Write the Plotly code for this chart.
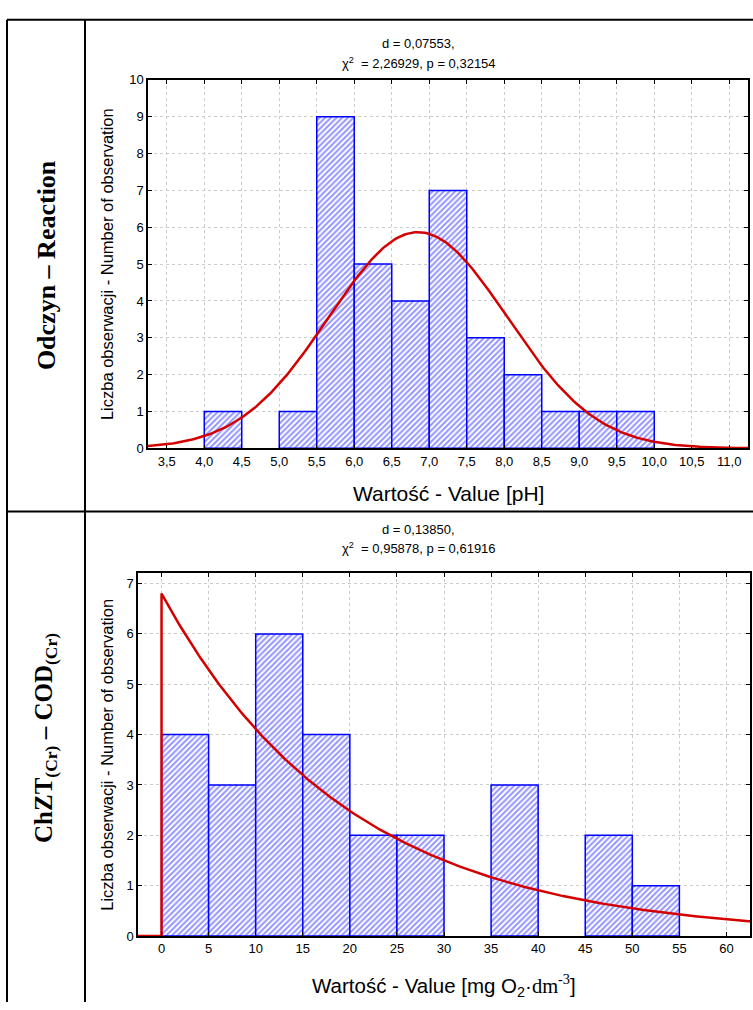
import plotly.graph_objects as go
import numpy as np

W, H = 753, 1010

# ---- Chart 1: pH ----
ph_bin_left = [4.0, 5.0, 5.5, 6.0, 6.5, 7.0, 7.5, 8.0, 8.5, 9.0, 9.5]
ph_counts = [1, 1, 9, 5, 4, 7, 3, 2, 1, 1, 1]
ph_bin_width = 0.5
ph_ticks = [3.5, 4.0, 4.5, 5.0, 5.5, 6.0, 6.5, 7.0, 7.5, 8.0, 8.5, 9.0, 9.5, 10.0, 10.5, 11.0]
ph_fit_mean = 6.85
ph_fit_sd = 1.19
ph_title1 = "d = 0,07553,"
ph_title2 = "χ<sup>2</sup>  = 2,26929, p = 0,32154"

# ---- Chart 2: COD ----
cod_bin_left = [0, 5, 10, 15, 20, 25, 35, 45, 50]
cod_counts = [4, 3, 6, 4, 2, 2, 3, 2, 1]
cod_bin_width = 5
cod_ticks = [0, 5, 10, 15, 20, 25, 30, 35, 40, 45, 50, 55, 60]
cod_fit_mean = 19.85
cod_title1 = "d = 0,13850,"
cod_title2 = "χ<sup>2</sup>  = 0,95878, p = 0,61916"

BLUE = "#0000ff"
RED = "#d40000"


def px(x):
    return x / W


def py(y):
    return 1 - y / H


fig = go.Figure()

bar_style = dict(
    marker=dict(
        color="white",
        line=dict(color=BLUE, width=1.5),
        pattern=dict(shape="/", fgcolor="#2a2aff", bgcolor="white", size=4, solidity=0.5),
    ),
    showlegend=False,
)

# chart 1 bars
fig.add_trace(go.Bar(
    x=[l + ph_bin_width / 2 for l in ph_bin_left], y=ph_counts,
    width=[ph_bin_width] * len(ph_counts), xaxis="x", yaxis="y", **bar_style))
# chart 1 normal fit
n1 = sum(ph_counts)
xs1 = np.linspace(3.25, 11.25, 300)
ys1 = n1 * ph_bin_width / (ph_fit_sd * np.sqrt(2 * np.pi)) * np.exp(-0.5 * ((xs1 - ph_fit_mean) / ph_fit_sd) ** 2)
fig.add_trace(go.Scatter(x=xs1, y=ys1, mode="lines", line=dict(color=RED, width=2.5),
                         xaxis="x", yaxis="y", showlegend=False))

# chart 2 bars
fig.add_trace(go.Bar(
    x=[l + cod_bin_width / 2 for l in cod_bin_left], y=cod_counts,
    width=[cod_bin_width] * len(cod_counts), xaxis="x2", yaxis="y2", **bar_style))
# chart 2 exponential fit
n2 = sum(cod_counts)
xs2 = np.linspace(0, 62.5, 300)
ys2 = n2 * cod_bin_width / cod_fit_mean * np.exp(-xs2 / cod_fit_mean)
xs2 = np.concatenate([[-2.5, 0.0], xs2])
ys2 = np.concatenate([[0.0, 0.0], ys2])
fig.add_trace(go.Scatter(x=xs2, y=ys2, mode="lines", line=dict(color=RED, width=2.5),
                         xaxis="x2", yaxis="y2", showlegend=False))

axis_common = dict(
    showline=True, linecolor="black", linewidth=1.5, mirror="ticks",
    ticks="inside", ticklen=4, tickcolor="black", tickwidth=1,
    showgrid=True, gridcolor="#cccccc", griddash="dot", gridwidth=1,
    zeroline=False, tickfont=dict(family="Liberation Sans, Arial", size=13, color="black"),
)

fig.update_layout(
    width=W, height=H,
    margin=dict(l=0, r=0, t=0, b=0),
    paper_bgcolor="white", plot_bgcolor="white",
    separators=", ",
    barmode="overlay",
    xaxis=dict(domain=[px(148), px(748)], range=[3.25, 11.25], tickvals=ph_ticks,
               tickformat=".1f", anchor="y", **axis_common),
    yaxis=dict(domain=[py(448), py(74)], range=[0, 10], tickvals=list(range(0, 11)),
               anchor="x", **axis_common),
    xaxis2=dict(domain=[px(138), px(750)], range=[-2.5, 62.5], tickvals=cod_ticks,
                anchor="y2", **axis_common),
    yaxis2=dict(domain=[py(943), py(575)], range=[0, 7.2], tickvals=list(range(0, 8)),
                anchor="x2", **axis_common),
)

sans = dict(family="Liberation Sans, Arial", color="black")
serif = dict(family="Liberation Serif, Times New Roman", color="black")

annotations = [
    # titles chart 1
    dict(x=px(419), y=py(37), text=ph_title1, font=dict(size=13, **sans)),
    dict(x=px(419), y=py(57), text=ph_title2, font=dict(size=13, **sans)),
    # titles chart 2
    dict(x=px(419), y=py(530), text=cod_title1, font=dict(size=13, **sans)),
    dict(x=px(419), y=py(549), text=cod_title2, font=dict(size=13, **sans)),
    # y titles
    dict(x=px(107), y=py(261), text="Liczba obserwacji - Number of observation",
         textangle=-90, font=dict(size=16.5, **sans)),
    dict(x=px(107), y=py(759), text="Liczba obserwacji - Number of observation",
         textangle=-90, font=dict(size=16.5, **sans)),
    # x titles
    dict(x=px(448), y=py(494), text="Wartość - Value [pH]", font=dict(size=21, **sans)),
    dict(x=px(444), y=py(993),
         text="Wartość - Value [mg O<sub>2</sub>·<span style=\"font-family:Liberation Serif\">dm<sup>-3</sup></span>]",
         font=dict(size=20.5, **sans)),
    # row labels
    dict(x=px(46), y=py(262), text="<b>Odczyn – Reaction</b>", textangle=-90,
         font=dict(size=26, **serif)),
    dict(x=px(46), y=py(742), text="<b>ChZT<sub>(Cr)</sub> – COD<sub>(Cr)</sub></b>", textangle=-90,
         font=dict(size=25, **serif)),
]
for a in annotations:
    a.update(xref="paper", yref="paper", showarrow=False, xanchor="center", yanchor="middle")
fig.update_layout(annotations=annotations)

line = dict(color="black", width=2)
shapes = [
    dict(type="line", x0=px(7), x1=px(753), y0=py(13), y1=py(13), line=line),
    dict(type="line", x0=px(7), x1=px(7), y0=py(13), y1=py(1010), line=line),
    dict(type="line", x0=px(85), x1=px(85), y0=py(13), y1=py(1010), line=line),
    dict(type="line", x0=px(7), x1=px(753), y0=py(512), y1=py(512), line=line),
]
for s in shapes:
    s.update(xref="paper", yref="paper")
fig.update_layout(shapes=shapes)

fig.write_html("out.html")
